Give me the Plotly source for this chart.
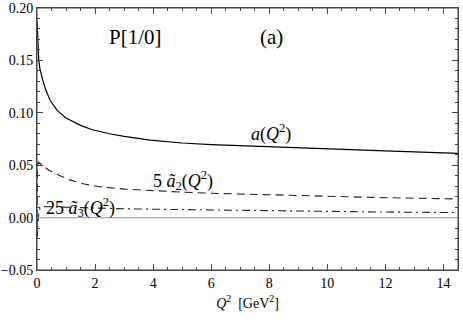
import plotly.graph_objects as go

# curve a(Q^2)
q2_a = [0, 0.01, 0.02, 0.04, 0.06, 0.1, 0.15, 0.2, 0.3, 0.45, 0.7, 1.0, 1.5, 1.9, 2.5, 3.0, 3.9, 5, 6, 7, 8, 10, 12, 14.5]
a_vals = [0.188, 0.179, 0.171, 0.160, 0.151, 0.142, 0.136, 0.131, 0.122, 0.112, 0.102, 0.095, 0.088, 0.0838,
          0.080, 0.0775, 0.074, 0.0712, 0.0696, 0.0685, 0.0675, 0.0655, 0.0636, 0.0613]

# curve 5 a2~(Q^2)
q2_a2 = [0, 0.004, 0.01, 0.02, 0.04, 0.086, 0.2, 0.4, 0.6, 1.12, 1.63, 2.15, 3, 3.87, 5, 6, 8, 10, 12, 14.5]
a2_vals = [0.0, 0.02, 0.04, 0.049, 0.053, 0.052, 0.049, 0.0455, 0.0423, 0.036, 0.032, 0.0295, 0.0272, 0.0257,
           0.0243, 0.0232, 0.0216, 0.0201, 0.019, 0.0178]

# curve 25 a3~(Q^2)
q2_a3 = [0, 0.004, 0.01, 0.02, 0.035, 0.06, 0.1, 0.2, 0.5, 1, 2, 3, 4, 6, 8, 10, 12, 14.5]
a3_vals = [0, -0.012, -0.019, -0.015, -0.005, 0.004, 0.009, 0.0105, 0.0103, 0.0098, 0.0089, 0.0084, 0.0080,
           0.0072, 0.0065, 0.0058, 0.0053, 0.0048]

font = "Liberation Serif"
x_range = [0, 14.5]
y_range = [-0.05, 0.2]
frame = "#444"

fig = go.Figure()
fig.add_trace(go.Scatter(x=q2_a, y=a_vals, mode="lines", line=dict(color="black", width=1.2)))
fig.add_trace(go.Scatter(x=q2_a2, y=a2_vals, mode="lines", line=dict(color="#222", width=1.1, dash="8px,5px")))
fig.add_trace(go.Scatter(x=q2_a3, y=a3_vals, mode="lines",
                         line=dict(color="#222", width=1.1, dash="8px,4px,2px,4px")))

labels = [
    (3.38, 0.172, "P[1/0]", 21),
    (8.09, 0.172, "(a)", 21),
    (8.06, 0.0807, "<i>a</i>(<i>Q</i><sup>2</sup>)", 18),
    (5.03, 0.035, "5 <i>ã</i><sub>2</sub>(<i>Q</i><sup>2</sup>)", 18),
    (1.49, 0.0092, "25 <i>ã</i><sub>3</sub>(<i>Q</i><sup>2</sup>)", 18),
]
for x, y, t, s in labels:
    fig.add_annotation(x=x, y=y, text=t, showarrow=False, font=dict(family=font, size=s, color="black"))

tickfont = dict(family=font, size=14, color="black")
common = dict(showline=True, linecolor=frame, linewidth=1, mirror="allticks", ticks="inside", ticklen=6,
              tickwidth=1, tickcolor=frame, showgrid=False, zeroline=False, automargin=False, tickfont=tickfont)

fig.update_xaxes(range=x_range, dtick=2, tick0=0,
                 minor=dict(dtick=0.5, ticks="inside", ticklen=3, tickwidth=1, tickcolor=frame, showgrid=False),
                 title=dict(text="<i>Q</i><sup>2</sup>  [GeV<sup>2</sup>]",
                            font=dict(family=font, size=14, color="black"), standoff=8),
                 **common)
fig.update_yaxes(range=y_range, dtick=0.05, tick0=0, tickformat=".2f",
                 minor=dict(dtick=0.01, ticks="inside", ticklen=3, tickwidth=1, tickcolor=frame, showgrid=False),
                 **common)

# horizontal axis line at zero
fig.add_hline(y=0, line=dict(color="#aaa", width=1.2))

# frame around the plot area
fig.add_shape(type="rect", xref="paper", yref="paper", x0=0, y0=0, x1=1, y1=1,
              line=dict(color=frame, width=1), fillcolor="rgba(0,0,0,0)", opacity=1, layer="above")

fig.update_layout(width=463, height=322, margin=dict(l=37, r=5, t=8, b=52),
                  plot_bgcolor="white", paper_bgcolor="white", showlegend=False,
                  font=dict(family=font))

# drop the browser's default 8px body margin so the figure fills the window
fig.write_html("out.html", config={"displayModeBar": False},
               post_script="document.body.style.margin='0';")
